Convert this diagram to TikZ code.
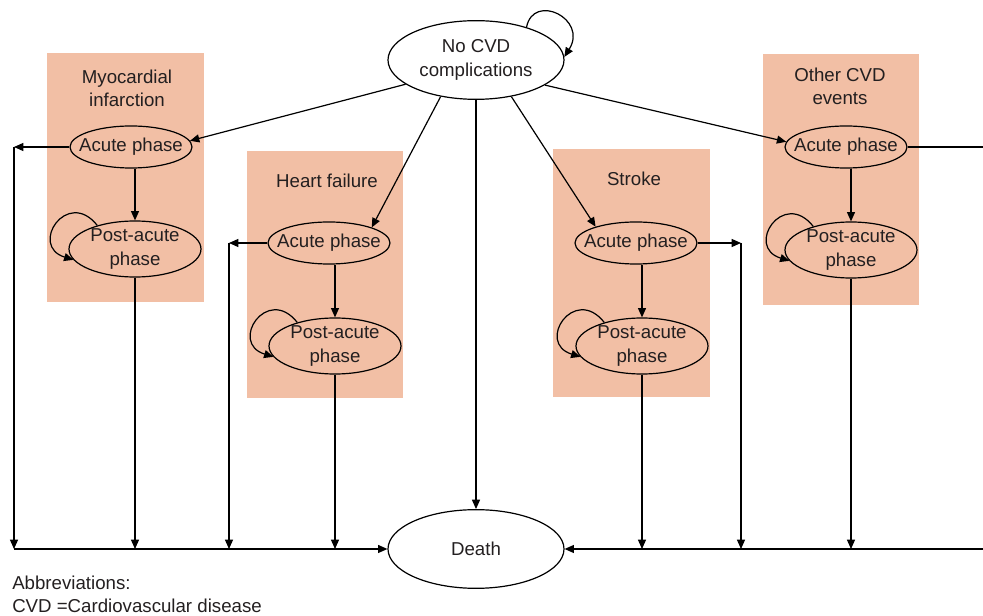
\documentclass[tikz,border=0pt]{standalone}
\usepackage{fontspec}
\setmainfont{Liberation Sans}
\usetikzlibrary{shapes.geometric,arrows.meta}
\definecolor{boxfill}{RGB}{242,191,165}
\definecolor{txt}{RGB}{35,31,32}
\begin{document}
\begin{tikzpicture}[x=0.75pt,y=-0.75pt,
  font=\fontsize{14}{17.5}\selectfont,
  state/.style={ellipse, draw, line width=0.9pt, inner sep=0pt},
  acute/.style={state, minimum width=91.5pt, minimum height=31.5pt,
    label={[ttl]center:Acute phase}},
  post/.style={state, minimum width=99pt, minimum height=42pt,
    label={[ttl]center:{Post-acute\\phase}}},
  big/.style={state, minimum width=132pt, minimum height=59pt},
  arr/.style={-{Triangle[length=7pt,width=6pt]}, line width=0.9pt},
  plain/.style={line width=0.9pt},
  ttl/.style={align=center, text=txt}]
\useasboundingbox (0,0) rectangle (983,616);
% group boxes
\fill[boxfill] (47,53) rectangle (204,302);
\fill[boxfill] (247,151) rectangle (403,398);
\fill[boxfill] (553,149) rectangle (710,397);
\fill[boxfill] (763,54) rectangle (919,305);
% titles
\node[ttl] (tmi) at (127,88) {Myocardial\\infarction};
\node[ttl] (thf) at (327,181) {Heart failure};
\node[ttl] (tst) at (634,179) {Stroke};
\node[ttl] (tot) at (840,86) {Other CVD\\events};
% states
\node[big, label={[ttl]center:{No CVD\\complications}}] (cvd) at (476,60) {};
\node[big, label={[ttl]center:Death}] (death) at (476,549) {};
\node[acute] (mia) at (131,147) {};
\node[post] (mip) at (135,249) {};
\node[acute] (hfa) at (329,243) {};
\node[post] (hfp) at (335,346) {};
\node[acute] (sta) at (636,243) {};
\node[post] (stp) at (642,346) {};
\node[acute] (ota) at (846,147) {};
\node[post] (otp) at (851,250) {};
% legend
\node[anchor=west, align=left, inner sep=0pt, text=txt] (abbr) at (12,594) {Abbreviations:\\CVD =Cardiovascular disease};
% corner coordinates
\coordinate (l1) at (14,147);
\coordinate (l2) at (14,549);
\coordinate (h1) at (229,243);
\coordinate (s1) at (741,243);
\coordinate (r1) at (983,147);
\coordinate (r2) at (983,549);
% from no CVD
\draw[arr] (cvd.33) .. controls +(7,-35) and +(24,-38) .. (cvd.2);
\draw[arr] (cvd.199) -- (mia.6);
\draw[arr] (cvd.226) -- (hfa.20);
\draw[arr] (cvd.314) -- (sta.158);
\draw[arr] (cvd.340) -- (ota.175);
\draw[arr] (cvd.south) -- (death.north);
% acute -> post
\draw[arr] (mip.north |- mia.south) -- (mip.north);
\draw[arr] (hfp.north |- hfa.south) -- (hfp.north);
\draw[arr] (stp.north |- sta.south) -- (stp.north);
\draw[arr] (otp.north |- ota.south) -- (otp.north);
% self loops
\draw[arr] (mip.148) .. controls +(-30,-38) and +(-45,-14) .. (mip.190);
\draw[arr] (hfp.148) .. controls +(-30,-38) and +(-45,-14) .. (hfp.190);
\draw[arr] (stp.148) .. controls +(-30,-38) and +(-45,-14) .. (stp.190);
\draw[arr] (otp.148) .. controls +(-30,-38) and +(-45,-14) .. (otp.190);
% acute -> death routes
\draw[arr] (mia.west) -- (l1);
\draw[arr] (l1) -- (l2);
\draw[arr] (l2) -- (death.west);
\draw[arr] (hfa.west) -- (h1);
\draw[arr] (h1) -- (h1 |- death.west);
\draw[arr] (sta.east) -- (s1);
\draw[arr] (s1) -- (s1 |- death.east);
\draw[plain] (ota.east) -- (r1);
\draw[arr] (r2) -- (death.east);
% post -> death
\draw[arr] (mip.south) -- (mip.south |- death.west);
\draw[arr] (hfp.south) -- (hfp.south |- death.west);
\draw[arr] (stp.south) -- (stp.south |- death.east);
\draw[arr] (otp.south) -- (otp.south |- death.east);
\end{tikzpicture}
\end{document}
